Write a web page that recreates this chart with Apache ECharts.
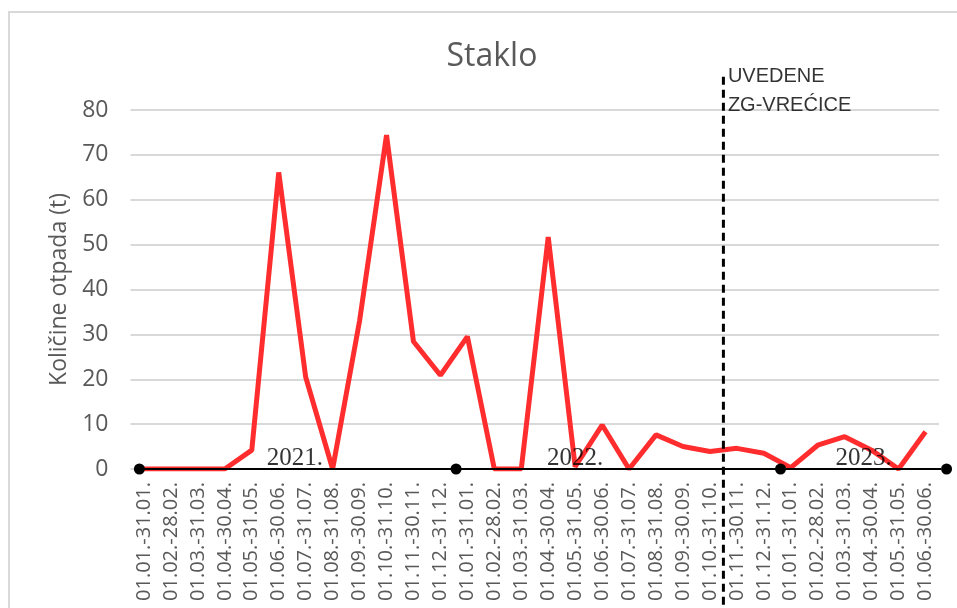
<!DOCTYPE html>
<html>
<head>
<meta charset="utf-8">
<script src="https://cdn.jsdelivr.net/npm/echarts@6/dist/echarts.min.js"></script>
<style>
  html, body { margin: 0; padding: 0; background: #fff; }
  #main { width: 957px; height: 608px; }
</style>
</head>
<body>
<div id="main"></div>
<script>
// podaci
var periods2021 = ['01.01.-31.01.', '01.02.-28.02.', '01.03.-31.03.', '01.04.-30.04.', '01.05.-31.05.', '01.06.-30.06.',
  '01.07.-31.07.', '01.08.-31.08.', '01.09.-30.09.', '01.10.-31.10.', '01.11.-30.11.', '01.12.-31.12.'];
var periods2022 = periods2021.slice();
var periods2023 = ['01.01.-31.01.', '01.02.-28.02.', '01.03.-31.03.', '01.04.-30.04.', '01.05.-31.05.', '01.06.-30.06.'];
var categories = periods2021.concat(periods2022, periods2023);

var staklo = [0, 0, 0, 0, 4.2, 66.1, 20.5, 0, 33, 74.4, 28.4, 20.9,
  29.5, 0, 0, 51.7, 0.5, 9.8, 0, 7.6, 5.0, 3.9, 4.6, 3.5,
  0.3, 5.3, 7.2, 4.2, 0, 8.3];

var yTicks = [0, 10, 20, 30, 40, 50, 60, 70, 80];

// godine - oznake na osnovnoj liniji (u jedinicama kategorija)
var yearDots = [-0.17, 11.58, 23.62, 29.78];
var yearLabels = ['2021.', '2022.', '2023.'];
var yearLabelPos = [5.6, 16.0, 26.7];

// isprekidana linija - uvedene ZG vrecice
var bagLineX = 21.5;
var bagLineY = [87.4, -31];
var bagText = 'UVEDENE\nZG-VREĆICE';

var myChart = echarts.init(document.getElementById('main'));

var option = {
  backgroundColor: '#fff',
  animation: false,
  title: {
    text: 'Staklo',
    left: 487,
    top: 36,
    textAlign: 'center',
    textStyle: { fontFamily: 'Open Sans', fontSize: 32, fontWeight: 'normal', color: '#595959' }
  },
  graphic: [
    {
      type: 'rect',
      shape: { x: 9, y: 12, width: 1000, height: 700 },
      style: { fill: 'none', stroke: '#d9d9d9', lineWidth: 2 },
      z: -10
    }
  ],
  grid: { left: 130.5, right: 18, top: 110, bottom: 139 },
  xAxis: [
    {
      type: 'category',
      data: categories,
      boundaryGap: true,
      axisLine: { show: false },
      axisTick: { show: false },
      axisLabel: {
        rotate: 90,
        interval: 0,
        margin: 13,
        fontFamily: 'Open Sans',
        fontSize: 20,
        color: '#595959'
      }
    },
    {
      type: 'value',
      min: -0.5,
      max: 29.5,
      show: false
    }
  ],
  yAxis: {
    type: 'value',
    min: yTicks[0],
    max: yTicks[yTicks.length - 1],
    interval: 10,
    name: 'Količine otpada (t)',
    nameLocation: 'middle',
    nameGap: 60,
    nameRotate: 90,
    nameTextStyle: { fontFamily: 'Open Sans', fontSize: 23, color: '#595959' },
    axisLine: { show: false },
    axisTick: { show: false },
    axisLabel: { fontFamily: 'Open Sans', fontSize: 23, color: '#595959', margin: 22 },
    splitLine: { lineStyle: { color: '#d9d9d9', width: 2 } }
  },
  series: [
    {
      name: 'Staklo',
      type: 'line',
      data: staklo,
      symbol: 'none',
      lineStyle: { color: '#ff2d2d', width: 5 },
      z: 3
    },
    {
      // osnovna crna linija s tockama
      type: 'line',
      xAxisIndex: 1,
      data: yearDots.map(function (x) { return [x, 0]; }),
      clip: false,
      symbol: 'circle',
      symbolSize: 11,
      itemStyle: { color: '#000' },
      lineStyle: { color: '#000', width: 2 },
      z: 4
    },
    {
      type: 'scatter',
      xAxisIndex: 1,
      data: yearLabelPos.map(function (x, i) { return [x, 0, yearLabels[i]]; }),
      symbolSize: 0,
      label: {
        show: true,
        position: 'top',
        distance: -2,
        formatter: function (p) { return p.data[2]; },
        fontFamily: 'Liberation Serif',
        fontSize: 25,
        color: '#000'
      },
      z: 5
    },
    {
      type: 'line',
      xAxisIndex: 1,
      data: [[bagLineX, bagLineY[0]], [bagLineX, bagLineY[1]]],
      clip: false,
      symbol: 'none',
      lineStyle: { color: '#000', width: 3, type: [8, 5] },
      z: 6
    },
    {
      type: 'scatter',
      xAxisIndex: 1,
      data: [[bagLineX, bagLineY[0]]],
      clip: false,
      symbolSize: 1,
      itemStyle: { color: 'rgba(0,0,0,0)' },
      label: {
        show: true,
        formatter: bagText,
        position: 'insideTopLeft',
        align: 'left',
        verticalAlign: 'top',
        offset: [0, -19],
        fontFamily: 'Liberation Sans',
        fontSize: 20,
        lineHeight: 29,
        color: '#000'
      },
      z: 6
    }
  ]
};

myChart.setOption(option);
</script>
</body>
</html>
